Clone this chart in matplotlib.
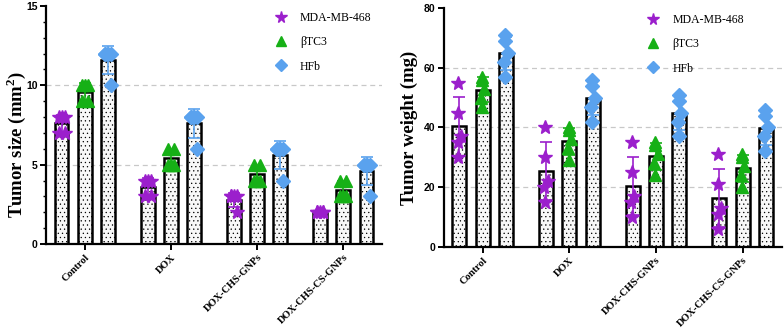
import numpy as np
import matplotlib.pyplot as plt
from matplotlib.ticker import MultipleLocator

plt.rcParams['font.family'] = ['Liberation Serif', 'DejaVu Serif']
plt.rcParams['mathtext.fontset'] = 'custom'
plt.rcParams['mathtext.bf'] = 'Liberation Serif:bold'
plt.rcParams['mathtext.rm'] = 'Liberation Serif'
plt.rcParams['hatch.color'] = '#c2c2c2'
plt.rcParams['hatch.linewidth'] = 0.4

groups = ['Control', 'DOX', 'DOX-CHS-GNPs', 'DOX-CHS-CS-GNPs']
cells = ['MDA-MB-468', '\u03b2TC3', 'HFb']

# tumor size (mm^2), one list per group, per cell line
size_mda = [[8, 8, 8, 7, 7], [4, 4, 4, 3, 3], [3, 3, 3, 3, 2], [2, 2, 2, 2, 2]]
size_btc = [[10, 10, 10, 9, 9], [6, 6, 5, 5, 5], [5, 5, 4, 4, 4], [4, 4, 3, 3, 3]]
size_hfb = [[12, 12, 12, 12, 10], [8, 8, 8, 8, 6], [6, 6, 6, 6, 4], [5, 5, 5, 5, 3]]

# tumor weight (mg)
weight_mda = [[55, 45, 37, 35, 30], [40, 30, 22, 20, 15], [35, 25, 17, 15, 10], [31, 21, 13, 11, 6]]
weight_btc = [[57, 56, 53, 50, 47], [40, 39, 36, 33, 29], [35, 34, 31, 28, 24], [31, 30, 27, 24, 20]]
weight_hfb = [[71, 69, 65, 62, 57], [56, 54, 50, 47, 42], [51, 49, 45, 42, 37], [46, 44, 40, 37, 32]]

colors = ['#9b1fcc', '#16b016', '#5aa2ee']
markers = ['*', '^', 'D']
msizes = [10, 9, 7]


def panel(ax, series, jitter, ylim, yticks, ylabel, lab_xy, leg_anchor):
    x = np.arange(len(groups))
    offs = [-0.27, 0.0, 0.27]
    for k, data in enumerate(series):
        means = [np.mean(d) for d in data]
        sds = [np.std(d, ddof=1) for d in data]
        xs = x + offs[k]
        ax.bar(xs, means, width=0.16, facecolor='#f8f8f8', edgecolor='black',
               linewidth=1.8, hatch='....', zorder=2)
        ax.errorbar(xs, means, yerr=sds, fmt='none', ecolor=colors[k],
                    elinewidth=1.2, capsize=4, capthick=1.2, zorder=3)
        for i, d in enumerate(data):
            ax.plot(xs[i] + np.array(jitter[:len(d)]), d, linestyle='none',
                    marker=markers[k], color=colors[k], markersize=msizes[k],
                    zorder=4, label=cells[k] if i == 0 else None)
    ax.set_xlim(-0.45, 3.45)
    ax.set_ylim(*ylim)
    ax.set_yticks(yticks)
    for t in yticks[1:-1]:
        ax.axhline(t, color='#c8c8c8', linestyle=(0, (4, 3)), linewidth=0.9, zorder=1)
    ax.set_xticks(x)
    ax.set_xticklabels(groups, rotation=45, ha='right', rotation_mode='anchor',
                       fontsize=7.5, fontweight='bold')
    for lbl in ax.get_yticklabels():
        lbl.set_fontweight('bold')
        lbl.set_fontsize(7.5)
        lbl.set_family('Liberation Sans')
    ax.set_ylabel(ylabel, fontsize=13.5, fontweight='bold')
    ax.yaxis.set_label_coords(*lab_xy)
    for s in ['top', 'right']:
        ax.spines[s].set_visible(False)
    for s in ['left', 'bottom']:
        ax.spines[s].set_linewidth(1.6)
    ax.tick_params(width=1.4, length=4, pad=2)
    ax.tick_params(which='minor', width=1.0, length=2.5)
    ax.legend(loc='upper right', frameon=False, fontsize=8.5, handletextpad=0.6,
              labelspacing=1.05, markerscale=0.85, bbox_to_anchor=leg_anchor)


fig = plt.figure(figsize=(7.84, 3.29), dpi=100)
ax1 = fig.add_axes([0.0587, 0.258, 0.4286, 0.724])
ax2 = fig.add_axes([0.566, 0.249, 0.431, 0.727])

panel(ax1, [size_mda, size_btc, size_hfb], [-0.035, 0.035, 0.0, -0.035, 0.035],
      (0, 15), [0, 5, 10, 15], 'Tumor size (mm$^{\\mathbf{2}}$)', (-0.055, 0.42),
      (1.0, 1.02))
ax1.yaxis.set_minor_locator(MultipleLocator(1))
panel(ax2, [weight_mda, weight_btc, weight_hfb], [-0.01, -0.01, 0.02, -0.02, -0.01],
      (0, 80), [0, 20, 40, 60, 80], 'Tumor weight (mg)', (-0.075, 0.5),
      (0.92, 1.02))

fig.savefig('out.png', dpi=100)
